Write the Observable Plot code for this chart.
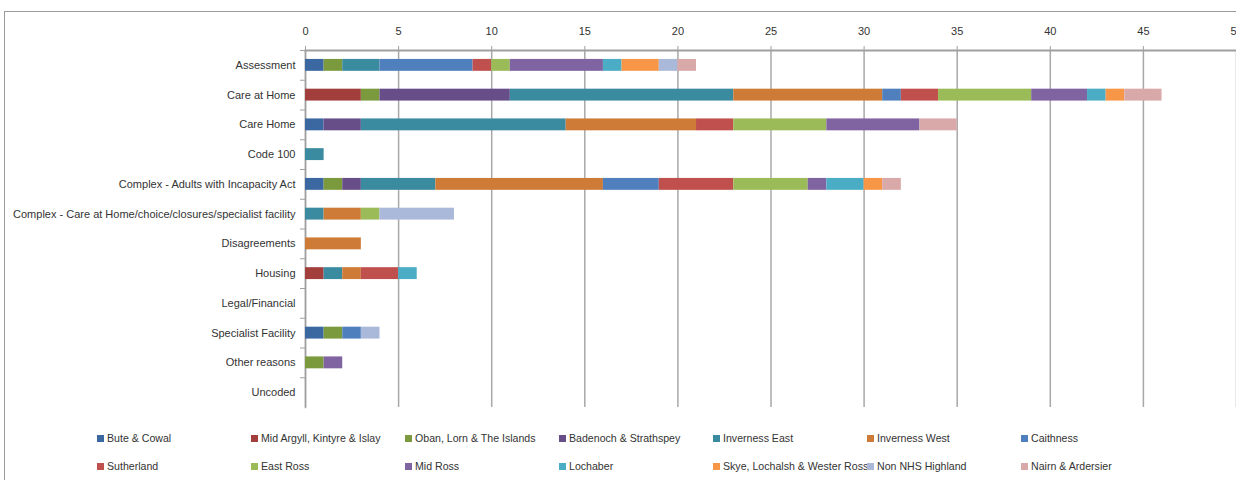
<!DOCTYPE html>
<html>
<head>
<meta charset="utf-8">
<script src="https://cdn.jsdelivr.net/npm/d3@7"></script>
<script src="https://cdn.jsdelivr.net/npm/@observablehq/plot@0.6"></script>
<style>
  html, body { margin: 0; padding: 0; background: #fff; overflow: hidden; }
  body { position: relative; width: 1236px; height: 480px; font-family: "Liberation Sans", Arial, sans-serif; color: #333; }
  #frame { position: absolute; left: 4px; top: 11px; width: 1300px; height: 520px; border: 1px solid #9a9a9a; box-sizing: border-box; }
  #chart { position: absolute; left: 0; top: 0; }
  #legend { position: absolute; left: 97px; top: 424px; display: grid; grid-template-columns: repeat(7, 154px); grid-auto-rows: 28px; font-size: 10.6px; }
  .item { display: flex; align-items: center; white-space: nowrap; }
  .sw { width: 7px; height: 7px; margin-right: 3px; flex: none; }
</style>
</head>
<body>
<div id="frame"></div>
<div id="chart"></div>
<div id="legend"></div>
<script>
const categories = [
  "Assessment",
  "Care at Home",
  "Care Home",
  "Code 100",
  "Complex - Adults with Incapacity Act",
  "Complex - Care at Home/choice/closures/specialist facility",
  "Disagreements",
  "Housing",
  "Legal/Financial",
  "Specialist Facility",
  "Other reasons",
  "Uncoded"
];
const regions = [
  "Bute & Cowal", "Mid Argyll, Kintyre & Islay", "Oban, Lorn & The Islands",
  "Badenoch & Strathspey", "Inverness East", "Inverness West", "Caithness",
  "Sutherland", "East Ross", "Mid Ross", "Lochaber",
  "Skye, Lochalsh & Wester Ross", "Non NHS Highland", "Nairn & Ardersier"
];
const colors = [
  "#3b68a1", "#a23f3d", "#7b9a3e", "#674e89", "#3a8aa0", "#cf7b38", "#4f80bd",
  "#c0504d", "#9bbb59", "#8064a2", "#4bacc6", "#f79646", "#aab9da", "#d9a9a9"
];
// values per region, in category order
const buteCowal      = [1, 0, 1, 0, 1, 0, 0, 0, 0, 1, 0, 0];
const midArgyll      = [0, 3, 0, 0, 0, 0, 0, 1, 0, 0, 0, 0];
const obanLorn       = [1, 1, 0, 0, 1, 0, 0, 0, 0, 1, 1, 0];
const badenoch       = [0, 7, 2, 0, 1, 0, 0, 0, 0, 0, 0, 0];
const invernessEast  = [2, 12, 11, 1, 4, 1, 0, 1, 0, 0, 0, 0];
const invernessWest  = [0, 8, 7, 0, 9, 2, 3, 1, 0, 0, 0, 0];
const caithness      = [5, 1, 0, 0, 3, 0, 0, 0, 0, 1, 0, 0];
const sutherland     = [1, 2, 2, 0, 4, 0, 0, 2, 0, 0, 0, 0];
const eastRoss       = [1, 5, 5, 0, 4, 1, 0, 0, 0, 0, 0, 0];
const midRoss        = [5, 3, 5, 0, 1, 0, 0, 0, 0, 0, 1, 0];
const lochaber       = [1, 1, 0, 0, 2, 0, 0, 1, 0, 0, 0, 0];
const skye           = [2, 1, 0, 0, 1, 0, 0, 0, 0, 0, 0, 0];
const nonNHS         = [1, 0, 0, 0, 0, 4, 0, 0, 0, 1, 0, 0];
const nairn          = [1, 2, 2, 0, 1, 0, 0, 0, 0, 0, 0, 0];
const xTicks = [0, 5, 10, 15, 20, 25, 30, 35, 40, 45, 50];

const series = [buteCowal, midArgyll, obanLorn, badenoch, invernessEast, invernessWest,
  caithness, sutherland, eastRoss, midRoss, lochaber, skye, nonNHS, nairn];

const rows = [];
categories.forEach((c, ci) => {
  series.forEach((s, ri) => {
    if (s[ci] > 0) rows.push({category: c, region: regions[ri], value: s[ci]});
  });
});

const W = 1236, H = 415, mTop = 50, mBottom = 8;
const step = (H - mTop - mBottom) / categories.length;
const font = '"Liberation Sans", Arial, sans-serif';

const chart = Plot.plot({
  width: W, height: H,
  marginLeft: 305, marginRight: 0, marginTop: mTop, marginBottom: mBottom,
  style: {fontFamily: font, fontSize: "11px", color: "#333", background: "transparent", overflow: "visible"},
  x: {domain: [0, 50], axis: null, label: null},
  y: {domain: categories, paddingInner: 0.6, paddingOuter: 0.3, round: false, axis: null, label: null},
  color: {domain: regions, range: colors},
  marks: [
    Plot.gridX(xTicks, {stroke: "#a8a8a8", strokeOpacity: 1, strokeWidth: 1.5}),
    Plot.axisX(xTicks, {anchor: "top", label: null, tickSize: 5, tickPadding: 11, stroke: "#a0a0a0", fill: "#333", fontSize: 11}),
    Plot.frame({anchor: "top", stroke: "#a0a0a0", strokeWidth: 2}),
    Plot.frame({anchor: "left", stroke: "#a0a0a0", strokeWidth: 1.5}),
    Plot.axisY({anchor: "left", label: null, tickSize: 0, tickPadding: 10, fill: "#333", fontSize: 11}),
    Plot.axisY({anchor: "left", label: null, tickSize: 5, text: null, stroke: "#a0a0a0", dy: -step / 2}),
    Plot.barX(rows, Plot.stackX({x: "value", y: "category", fill: "region"}))
  ]
});
document.getElementById("chart").appendChild(chart);

// legend: two rows of seven
const legend = document.getElementById("legend");
regions.forEach((r, i) => {
  const item = document.createElement("div");
  item.className = "item";
  const sw = document.createElement("span");
  sw.className = "sw";
  sw.style.background = colors[i];
  item.appendChild(sw);
  item.appendChild(document.createTextNode(r));
  legend.appendChild(item);
});
</script>
</body>
</html>
